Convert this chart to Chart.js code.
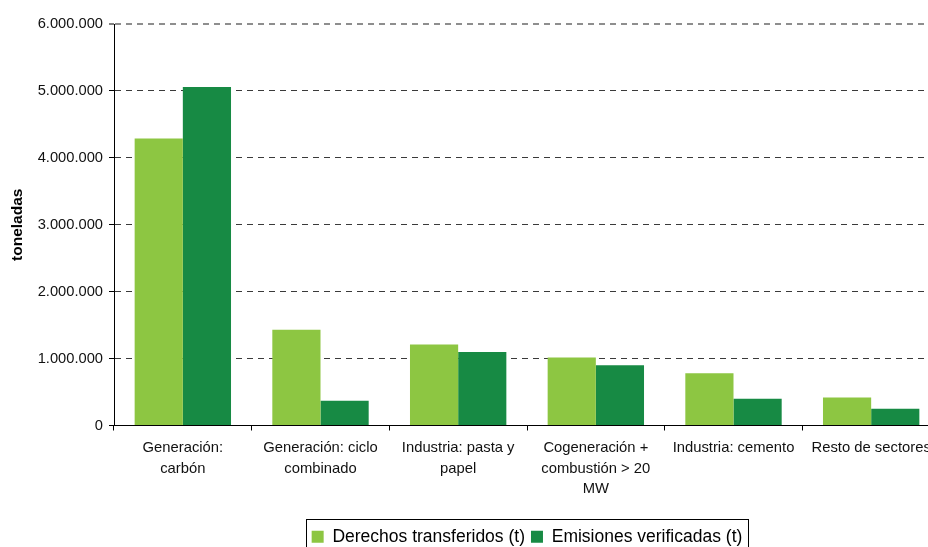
<!DOCTYPE html>
<html>
<head>
<meta charset="utf-8">
<script src="https://cdn.jsdelivr.net/npm/chart.js@4/dist/chart.umd.min.js"></script>
<style>
  html, body { margin: 0; padding: 0; background: #fff; overflow: hidden; width: 928px; height: 547px; }
  canvas { display: block; }
</style>
</head>
<body>
<canvas id="c" width="960" height="547"></canvas>
<script>
const categories = [
  ["Generación:", "carbón"],
  ["Generación: ciclo", "combinado"],
  ["Industria: pasta y", "papel"],
  ["Cogeneración +", "combustión > 20", "MW"],
  "Industria: cemento",
  "Resto de sectores"
];
const derechosTransferidos = [4290000, 1430000, 1210000, 1015000, 780000, 420000];
const emisionesVerificadas = [5060000, 370000, 1100000, 900000, 400000, 250000];
const seriesNames = ["Derechos transferidos (t)", "Emisiones verificadas (t)"];
const yTicks = [0, 1000000, 2000000, 3000000, 4000000, 5000000, 6000000];
const yTitle = "toneladas";

const FONT = "'Liberation Sans', Arial, sans-serif";
const fmt = v => String(v).replace(/\B(?=(\d{3})+(?!\d))/g, '.');

const legendPlacer = {
  id: 'legendPlacer',
  afterLayout(chart) {
    const lg = chart.legend;
    if (!lg) return;
    const h = lg.height;
    lg.top = 522;
    lg.bottom = lg.top + h;
  },
  afterDraw(chart) {
    const lg = chart.legend;
    if (!lg || !lg.legendHitBoxes || !lg.legendHitBoxes.length) return;
    const hb = lg.legendHitBoxes;
    const first = hb[0], last = hb[hb.length - 1];
    const ctx = chart.ctx;
    ctx.save();
    ctx.strokeStyle = '#000';
    ctx.lineWidth = 1;
    const l = Math.round(first.left - 6) + 0.5;
    const r = Math.round(last.left + last.width + 6) + 0.5;
    const t = 519.5;
    ctx.strokeRect(l, t, r - l, 40);
    ctx.restore();
  }
};

new Chart(document.getElementById('c'), {
  type: 'bar',
  data: {
    labels: categories,
    datasets: [
      { label: seriesNames[0], data: derechosTransferidos, backgroundColor: '#8dc642', borderWidth: 0 },
      { label: seriesNames[1], data: emisionesVerificadas, backgroundColor: '#178a44', borderWidth: 0 }
    ]
  },
  plugins: [legendPlacer],
  options: {
    responsive: false,
    animation: false,
    devicePixelRatio: 1,
    layout: { padding: { top: 24, left: 0, right: 20, bottom: 0 } },
    datasets: { bar: { categoryPercentage: 0.7, barPercentage: 1.0 } },
    plugins: {
      tooltip: { enabled: false },
      legend: {
        position: 'bottom',
        fullSize: false,
        labels: {
          boxWidth: 12,
          boxHeight: 12,
          padding: 6,
          color: '#000',
          font: { family: FONT, size: 17.5, lineHeight: 1.2 }
        }
      }
    },
    scales: {
      x: {
        grid: {
          offset: true,
          drawOnChartArea: false,
          drawTicks: true,
          tickLength: 5,
          color: '#000',
          tickColor: '#000'
        },
        border: { display: true, color: '#000', width: 1 },
        ticks: {
          color: '#111',
          padding: 7,
          maxRotation: 0,
          autoSkip: false,
          font: { family: FONT, size: 14.8, lineHeight: 1.4 }
        },
        afterFit(scale) { scale.height = 88; }
      },
      y: {
        min: 0,
        max: 6000000,
        afterBuildTicks(scale) { scale.ticks = yTicks.map(v => ({ value: v })); },
        grid: {
          drawTicks: true,
          tickLength: 5,
          color: c => (c.tick && c.tick.value === 6000000) ? '#8e8e8e' : '#3a3a3a',
          lineWidth: c => (c.tick && c.tick.value === 6000000) ? 2 : 1,
          tickColor: '#000',
          tickWidth: 1
        },
        border: { display: true, color: '#000', width: 1, dash: [6, 5] },
        ticks: {
          color: '#111',
          padding: 6,
          font: { family: FONT, size: 14.7 },
          callback: v => fmt(v)
        },
        title: {
          display: true,
          text: yTitle,
          color: '#000',
          font: { family: FONT, size: 15.5, weight: 'bold' },
          padding: { top: 8, bottom: 0 }
        },
        afterFit(scale) { scale.width = 114; }
      }
    }
  }
});
</script>
</body>
</html>
